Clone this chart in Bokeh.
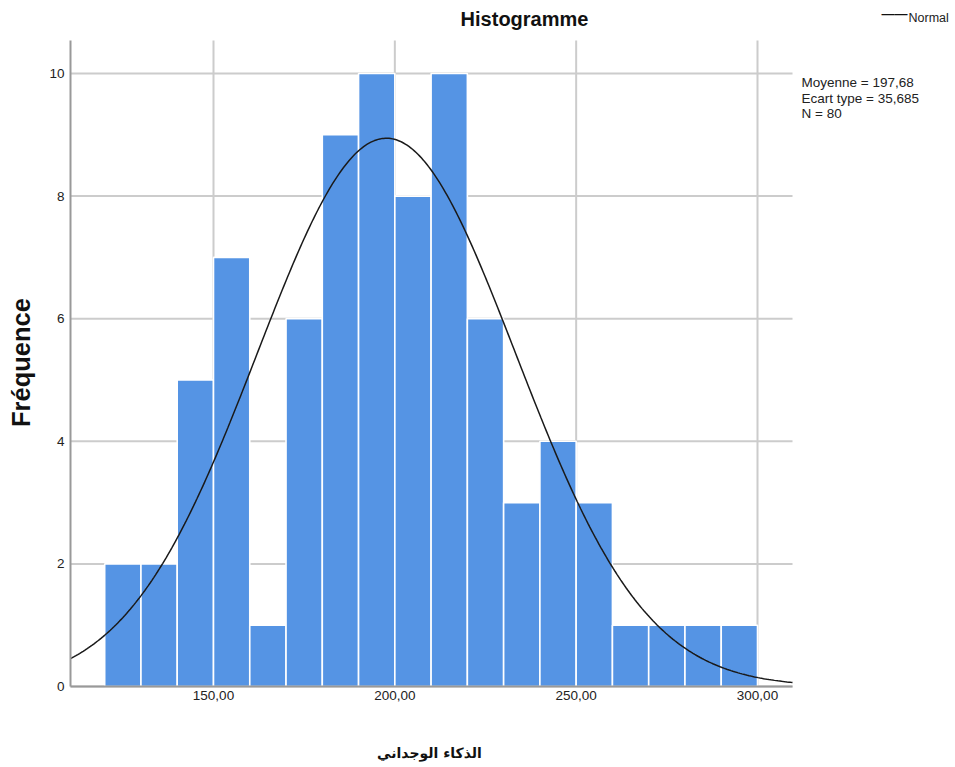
import numpy as np
from bokeh.plotting import figure
from bokeh.models import FixedTicker, CustomJSTickFormatter, Label, Range1d, ColumnDataSource
from bokeh.embed import file_html
from bokeh.resources import INLINE

# ---- data ----
bin_left = [120, 130, 140, 150, 160, 170, 180, 190, 200, 210, 220, 230, 240, 250, 260, 270, 280, 290]
bin_right = [130, 140, 150, 160, 170, 180, 190, 200, 210, 220, 230, 240, 250, 260, 270, 280, 290, 300]
counts = [2, 2, 5, 7, 1, 6, 9, 10, 8, 10, 6, 3, 4, 3, 1, 1, 1, 1]
mean = 197.68
std_dev = 35.685
n_obs = 80
bin_width = 10
x_ticks = [150, 200, 250, 300]
y_ticks = [0, 2, 4, 6, 8, 10]
stats_lines = ["Moyenne = 197,68", "Ecart type = 35,685", "N = 80"]

# ---- geometry (pixels of the reference) ----
W, H = 955, 765
AX_LEFT, AX_BOTTOM = 70, 686                # where the axes cross, in canvas pixels
PX_X = (757 - 213) / 150.0                  # pixels per x unit
PX_Y = (686 - 73) / 10.0                    # pixels per y unit
X_MIN = 150 - (213 - AX_LEFT) / PX_X        # left end of the plot area
X_RIGHT = 300 + (792 - 757) / PX_X          # right end of the plot area
Y_TOP = (AX_BOTTOM - 40) / PX_Y             # top of the plot area
# the frame covers the whole canvas so that every text can be placed freely
XR0 = X_MIN - AX_LEFT / PX_X
XR1 = XR0 + W / PX_X
YR0 = -(H - AX_BOTTOM) / PX_Y
YR1 = AX_BOTTOM / PX_Y


def dx(sx):
    return XR0 + sx / PX_X


def dy(sy):
    return (AX_BOTTOM - sy) / PX_Y


FONT = "Liberation Sans"

p = figure(width=W, height=H, output_backend="svg", toolbar_location=None,
           x_range=Range1d(XR0, XR1), y_range=Range1d(YR0, YR1),
           min_border_left=0, min_border_right=0, min_border_top=0, min_border_bottom=0)
p.outline_line_color = None
p.background_fill_color = "white"
p.border_fill_color = "white"
p.xgrid.visible = False
p.ygrid.visible = False

# grid lines (limited to the plot area)
p.segment(x0=x_ticks, x1=x_ticks, y0=[0] * len(x_ticks), y1=[Y_TOP] * len(x_ticks),
          line_color="#cccccc", line_width=2)
p.segment(x0=[X_MIN] * len(y_ticks), x1=[X_RIGHT] * len(y_ticks), y0=y_ticks, y1=y_ticks,
          line_color="#cccccc", line_width=2)

# bars
src = ColumnDataSource(dict(left=bin_left, right=bin_right, top=counts, bottom=[0] * len(counts)))
p.quad(left="left", right="right", top="top", bottom="bottom", source=src,
       fill_color="#5594e4", line_color="white", line_width=1.6)

# normal curve from the stated mean, sd, N
xs = np.linspace(X_MIN, X_RIGHT, 400)
ys = n_obs * bin_width / (std_dev * np.sqrt(2 * np.pi)) * np.exp(-0.5 * ((xs - mean) / std_dev) ** 2)
p.line(xs, ys, line_color="#1a1a1a", line_width=1.5)

# axes, pinned at the plot area's edges
for ax in (p.xaxis, p.yaxis):
    ax.axis_line_color = "#999999"
    ax.axis_line_width = 2
    ax.major_tick_line_color = None
    ax.minor_tick_line_color = None
    ax.major_tick_out = 0
    ax.major_tick_in = 0
    ax.major_label_text_font = FONT
    ax.major_label_text_font_size = "13.5px"
    ax.major_label_text_color = "#222222"

p.xaxis.fixed_location = 0
p.yaxis.fixed_location = X_MIN
p.xaxis.bounds = (X_MIN, X_RIGHT)
p.yaxis.bounds = (0, Y_TOP)
p.xaxis.ticker = FixedTicker(ticks=x_ticks)
p.yaxis.ticker = FixedTicker(ticks=y_ticks)
p.xaxis.formatter = CustomJSTickFormatter(code="return tick.toFixed(2).replace('.', ',');")
p.xaxis.major_label_standoff = 4
p.yaxis.major_label_standoff = 6

LBL = dict(text_font=FONT, text_baseline="middle", text_color="#222222")

# axis titles
p.add_layout(Label(x=dx(20), y=dy(362), text="Fréquence", angle=np.pi / 2,
                   text_font=FONT, text_font_style="bold", text_font_size="25.5px",
                   text_align="center", text_baseline="middle", text_color="#111111"))
p.add_layout(Label(x=dx(429), y=dy(752), text="الذكاء الوجداني",
                   text_font="DejaVu Sans", text_font_style="bold", text_font_size="14px",
                   text_align="center", text_baseline="middle", text_color="#111111"))

# title
p.add_layout(Label(x=dx(524), y=dy(18), text="Histogramme", text_font_style="bold",
                   text_font_size="20px", text_align="center",
                   **{**LBL, "text_color": "#111111"}))

# legend
p.add_layout(Label(x=dx(881), y=dy(13), text="——", text_font_size="13px", text_font_style="bold",
                   text_align="left", **{**LBL, "text_color": "#111111"}))
p.add_layout(Label(x=dx(908), y=dy(17), text="Normal", text_font_size="12.5px", text_align="left", **LBL))

# stats
for i, t in enumerate(stats_lines):
    p.add_layout(Label(x=dx(801), y=dy(82 + i * 15.5), text=t, text_font_size="13.5px",
                       text_align="left", **LBL))

open("out.html", "w").write(file_html(p, INLINE))
